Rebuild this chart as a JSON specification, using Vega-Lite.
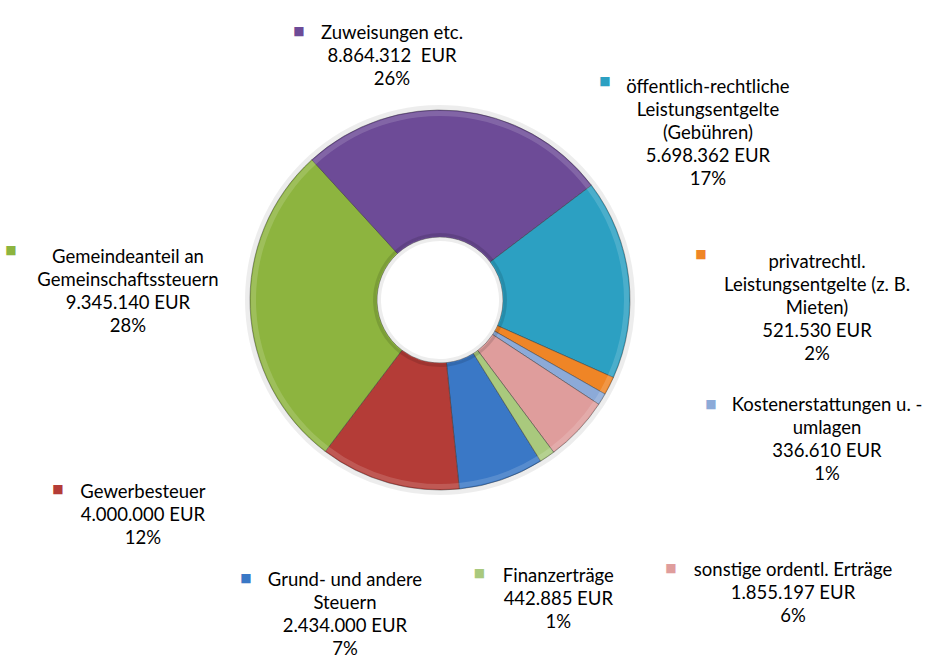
{
  "$schema": "https://vega.github.io/schema/vega-lite/v6.json",
  "width": 880,
  "height": 600,
  "autosize": "none",
  "padding": {"left": 0, "top": 0, "right": 54, "bottom": 66},
  "background": "white",
  "config": {"view": {"stroke": null}},
  "data": {
    "values": [
      {"nr": 1, "name": "Grund- und andere Steuern", "value": 2434000, "label": "Grund- und andere\nSteuern\n2.434.000 EUR\n7%"},
      {"nr": 2, "name": "Gewerbesteuer", "value": 4000000, "label": "Gewerbesteuer\n4.000.000 EUR\n12%"},
      {"nr": 3, "name": "Gemeindeanteil an Gemeinschaftssteuern", "value": 9345140, "label": "Gemeindeanteil an\nGemeinschaftssteuern\n9.345.140 EUR\n28%"},
      {"nr": 4, "name": "Zuweisungen etc.", "value": 8864312, "label": "Zuweisungen etc.\n8.864.312\u00a0 EUR\n26%"},
      {"nr": 5, "name": "öffentlich-rechtliche Leistungsentgelte (Gebühren)", "value": 5698362, "label": "öffentlich-rechtliche\nLeistungsentgelte\n(Gebühren)\n5.698.362 EUR\n17%"},
      {"nr": 6, "name": "privatrechtl. Leistungsentgelte (z. B. Mieten)", "value": 521530, "label": "privatrechtl.\nLeistungsentgelte (z. B.\nMieten)\n521.530 EUR\n2%"},
      {"nr": 7, "name": "Kostenerstattungen u. -umlagen", "value": 336610, "label": "Kostenerstattungen u. -\numlagen\n336.610 EUR\n1%"},
      {"nr": 8, "name": "sonstige ordentl. Erträge", "value": 1855197, "label": "sonstige ordentl. Erträge\n1.855.197 EUR\n6%"},
      {"nr": 9, "name": "Finanzerträge", "value": 442885, "label": "Finanzerträge\n442.885 EUR\n1%"}
    ]
  },
  "transform": [
    {"stack": "value", "groupby": [], "sort": [{"field": "nr", "order": "ascending"}], "as": ["v0", "v1"]}
  ],
  "encoding": {
    "theta": {"field": "v0", "type": "quantitative", "stack": null, "scale": {"domain": [0, 33498036], "range": [2.5831, 8.8663]}},
    "color": {
      "field": "name", "type": "nominal", "legend": null,
      "scale": {
        "domain": ["Grund- und andere Steuern", "Gewerbesteuer", "Gemeindeanteil an Gemeinschaftssteuern", "Zuweisungen etc.", "öffentlich-rechtliche Leistungsentgelte (Gebühren)", "privatrechtl. Leistungsentgelte (z. B. Mieten)", "Kostenerstattungen u. -umlagen", "sonstige ordentl. Erträge", "Finanzerträge"],
        "range": ["#3A78C6", "#B43C37", "#8DB43F", "#6D4B97", "#2CA0C2", "#EF8526", "#8CAAD8", "#DF9D9C", "#A9C97D"]
      }
    }
  },
  "layer": [
    {
      "mark": {"type": "arc", "outerRadius": 195, "innerRadius": 59, "opacity": 0.07},
      "encoding": {"theta2": {"field": "v1"}, "color": {"value": "#000000"}}
    },
    {
      "mark": {"type": "arc", "outerRadius": 190, "innerRadius": 63, "stroke": "#333333", "strokeOpacity": 0.45, "strokeWidth": 1},
      "encoding": {"theta2": {"field": "v1"}}
    },
    {
      "mark": {"type": "arc", "outerRadius": 189, "innerRadius": 184, "opacity": 0.15},
      "encoding": {"theta2": {"field": "v1"}, "color": {"value": "#FFFFFF"}}
    },
    {
      "mark": {"type": "arc", "outerRadius": 67, "innerRadius": 64, "opacity": 0.12},
      "encoding": {"theta2": {"field": "v1"}, "color": {"value": "#000000"}}
    },
    {
      "transform": [{"filter": "datum.nr == 4"}],
      "layer": [
        {"mark": {"type": "text", "radius": 265.4, "thetaOffset": 0.5586, "align": "center", "baseline": "alphabetic", "lineBreak": "\n", "lineHeight": 23, "font": "Lato", "fontSize": 18.5},
         "encoding": {"text": {"field": "label"}, "color": {"value": "#000000"}}},
        {"mark": {"type": "text", "text": "■", "radius": 303.7, "thetaOffset": 0.2577, "align": "center", "baseline": "middle", "font": "DejaVu Sans", "fontSize": 12}}
      ]
    },
    {
      "transform": [{"filter": "datum.nr == 5"}],
      "layer": [
        {"mark": {"type": "text", "radius": 338.6, "thetaOffset": -0.0093, "align": "center", "baseline": "alphabetic", "lineBreak": "\n", "lineHeight": 23, "font": "Lato", "fontSize": 18.5},
         "encoding": {"text": {"field": "label"}, "color": {"value": "#000000"}}},
        {"mark": {"type": "text", "text": "■", "radius": 274.2, "thetaOffset": -0.2765, "align": "center", "baseline": "middle", "font": "DejaVu Sans", "fontSize": 12}}
      ]
    },
    {
      "transform": [{"filter": "datum.nr == 6"}],
      "layer": [
        {"mark": {"type": "text", "radius": 378.4, "thetaOffset": -0.505, "align": "center", "baseline": "alphabetic", "lineBreak": "\n", "lineHeight": 23, "font": "Lato", "fontSize": 18.5},
         "encoding": {"text": {"field": "label"}, "color": {"value": "#000000"}}},
        {"mark": {"type": "text", "text": "■", "radius": 265.0, "thetaOffset": -0.5948, "align": "center", "baseline": "middle", "font": "DejaVu Sans", "fontSize": 12}}
      ]
    },
    {
      "transform": [{"filter": "datum.nr == 7"}],
      "layer": [
        {"mark": {"type": "text", "radius": 402.6, "thetaOffset": -0.2389, "align": "center", "baseline": "alphabetic", "lineBreak": "\n", "lineHeight": 23, "font": "Lato", "fontSize": 18.5},
         "encoding": {"text": {"field": "label"}, "color": {"value": "#000000"}}},
        {"mark": {"type": "text", "text": "■", "radius": 290.3, "thetaOffset": -0.1516, "align": "center", "baseline": "middle", "font": "DejaVu Sans", "fontSize": 12}}
      ]
    },
    {
      "transform": [{"filter": "datum.nr == 3"}],
      "layer": [
        {"mark": {"type": "text", "radius": 314.2, "thetaOffset": 1.0404, "align": "center", "baseline": "alphabetic", "lineBreak": "\n", "lineHeight": 23, "font": "Lato", "fontSize": 18.5},
         "encoding": {"text": {"field": "label"}, "color": {"value": "#000000"}}},
        {"mark": {"type": "text", "text": "■", "radius": 431.9, "thetaOffset": 1.0385, "align": "center", "baseline": "middle", "font": "DejaVu Sans", "fontSize": 12}}
      ]
    },
    {
      "transform": [{"filter": "datum.nr == 2"}],
      "layer": [
        {"mark": {"type": "text", "radius": 357.0, "thetaOffset": 1.0848, "align": "center", "baseline": "alphabetic", "lineBreak": "\n", "lineHeight": 23, "font": "Lato", "fontSize": 18.5},
         "encoding": {"text": {"field": "label"}, "color": {"value": "#000000"}}},
        {"mark": {"type": "text", "text": "■", "radius": 426.2, "thetaOffset": 1.2132, "align": "center", "baseline": "middle", "font": "DejaVu Sans", "fontSize": 12}}
      ]
    },
    {
      "transform": [{"filter": "datum.nr == 1"}],
      "layer": [
        {"mark": {"type": "text", "radius": 301.4, "thetaOffset": 0.8793, "align": "center", "baseline": "alphabetic", "lineBreak": "\n", "lineHeight": 23, "font": "Lato", "fontSize": 18.5},
         "encoding": {"text": {"field": "label"}, "color": {"value": "#000000"}}},
        {"mark": {"type": "text", "text": "■", "radius": 339.0, "thetaOffset": 1.1678, "align": "center", "baseline": "middle", "font": "DejaVu Sans", "fontSize": 12}}
      ]
    },
    {
      "transform": [{"filter": "datum.nr == 9"}],
      "layer": [
        {"mark": {"type": "text", "radius": 306.0, "thetaOffset": 0.2445, "align": "center", "baseline": "alphabetic", "lineBreak": "\n", "lineHeight": 23, "font": "Lato", "fontSize": 18.5},
         "encoding": {"text": {"field": "label"}, "color": {"value": "#000000"}}},
        {"mark": {"type": "text", "text": "■", "radius": 276.0, "thetaOffset": 0.4981, "align": "center", "baseline": "middle", "font": "DejaVu Sans", "fontSize": 12}}
      ]
    },
    {
      "transform": [{"filter": "datum.nr == 8"}],
      "layer": [
        {"mark": {"type": "text", "radius": 448.1, "thetaOffset": 0.0823, "align": "center", "baseline": "alphabetic", "lineBreak": "\n", "lineHeight": 23, "font": "Lato", "fontSize": 18.5},
         "encoding": {"text": {"field": "label"}, "color": {"value": "#000000"}}},
        {"mark": {"type": "text", "text": "■", "radius": 353.8, "thetaOffset": 0.2782, "align": "center", "baseline": "middle", "font": "DejaVu Sans", "fontSize": 12}}
      ]
    }
  ]
}
